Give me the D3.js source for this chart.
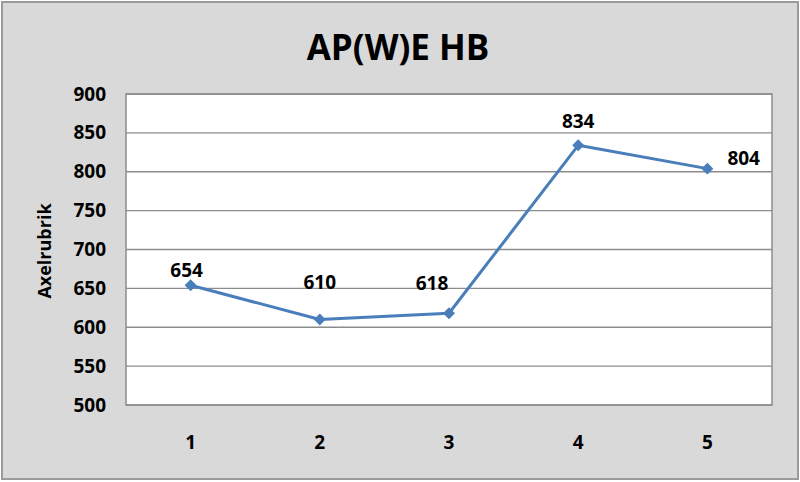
<!DOCTYPE html>
<html><head><meta charset="utf-8">
<script src="https://cdn.jsdelivr.net/npm/d3@7"></script>
<style>body{margin:0;background:#fff}svg{display:block}text{font-family:"Open Sans","Noto Sans",sans-serif;font-weight:bold;fill:#000}</style>
</head><body>
<script>
const categories = ["1","2","3","4","5"];
const values = [654, 610, 618, 834, 804];
const yTicks = [500,550,600,650,700,750,800,850,900];
const title = "AP(W)E HB";
const yTitle = "Axelrubrik";
// label offsets relative to each point (style only)
const labelDx = [-4, 0, -17, 0, 20];
const labelDy = [-8, -30, -23, -17, -4];
const labelAnchor = ["middle","middle","middle","middle","start"];

const W=800,H=482;
const svg=d3.select("body").append("svg").attr("width",W).attr("height",H);
svg.append("rect").attr("x",2).attr("y",2).attr("width",W-4).attr("height",H-5)
  .attr("fill","#d9d9d9").attr("stroke","#9a9a9a").attr("stroke-width",2);

const m={l:126,t:94,r:772,b:405};
const x=d3.scaleBand().domain(categories).range([m.l,m.r]);
const y=d3.scaleLinear().domain([500,900]).range([m.b,m.t]);

svg.append("rect").attr("x",m.l).attr("y",m.t).attr("width",m.r-m.l).attr("height",m.b-m.t)
  .attr("fill","#fff").attr("stroke","#8c8c8c").attr("stroke-width",1.5);

svg.append("g").selectAll("line").data(yTicks).join("line")
  .attr("x1",m.l).attr("x2",m.r).attr("y1",d=>y(d)).attr("y2",d=>y(d))
  .attr("stroke","#8c8c8c").attr("stroke-width",1.3);

const ya=svg.append("g").attr("transform",`translate(${m.l},0)`)
  .call(d3.axisLeft(y).tickValues(yTicks).tickSize(0).tickPadding(20));
ya.select(".domain").remove();
ya.selectAll("text").attr("font-size",19).attr("font-family","'Open Sans',sans-serif").attr("font-weight","bold").attr("fill","#000");

const xa=svg.append("g").attr("transform",`translate(0,${m.b})`)
  .call(d3.axisBottom(x).tickSize(0).tickPadding(31));
xa.select(".domain").remove();
xa.selectAll("text").attr("font-size",19).attr("font-family","'Open Sans',sans-serif").attr("font-weight","bold").attr("fill","#000");

svg.append("text").attr("x",398).attr("y",60).attr("text-anchor","middle")
  .attr("font-size",35).text(title);
svg.append("text").attr("transform","translate(51,251) rotate(-90)").attr("text-anchor","middle")
  .attr("font-size",18).text(yTitle);

const pts=categories.map((c,i)=>({c,v:values[i],i}));
const cx=d=>x(d.c)+x.bandwidth()/2;
svg.append("path").datum(pts).attr("fill","none").attr("stroke","#4a7ebb").attr("stroke-width",3)
  .attr("stroke-linejoin","round")
  .attr("d",d3.line().x(cx).y(d=>y(d.v)));
svg.append("g").selectAll("path").data(pts).join("path")
  .attr("transform",d=>`translate(${cx(d)},${y(d.v)})`)
  .attr("d",d3.symbol(d3.symbolDiamond2,90)).attr("fill","#4a7ebb");

svg.append("g").selectAll("text").data(pts).join("text")
  .attr("font-size",19)
  .attr("text-anchor",d=>labelAnchor[d.i])
  .attr("x",d=>cx(d)+labelDx[d.i])
  .attr("y",d=>y(d.v)+labelDy[d.i])
  .text(d=>d.v);
</script>
</body></html>
